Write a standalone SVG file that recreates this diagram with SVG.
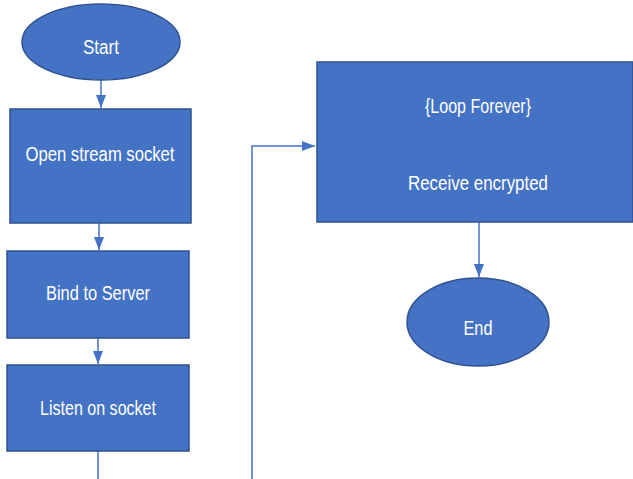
<svg xmlns="http://www.w3.org/2000/svg" width="633" height="479" viewBox="0 0 633 479">
  <style>
    .shape { fill: #4472C4; stroke: #2F528F; stroke-width: 1.5; }
    .label { fill: #FFFFFF; font-family: "Liberation Sans", Arial, sans-serif; font-size: 20px; text-anchor: middle; dominant-baseline: central; }
    .edge { fill: none; stroke: #4472C4; stroke-width: 1.5; }
  </style>
  <defs>
    <marker id="arrow" viewBox="0 0 10 10" refX="10" refY="5" markerWidth="13" markerHeight="10" markerUnits="userSpaceOnUse" orient="auto" preserveAspectRatio="none">
      <path d="M0,0 L10,5 L0,10 Z" fill="#4472C4"/>
    </marker>
  </defs>
  <rect width="633" height="479" fill="#FFFFFF"/>

  <g id="connectors">
    <line class="edge" x1="101" y1="80" x2="101" y2="108" marker-end="url(#arrow)"/>
    <line class="edge" x1="99" y1="223" x2="99" y2="250" marker-end="url(#arrow)"/>
    <line class="edge" x1="98" y1="338" x2="98" y2="364" marker-end="url(#arrow)"/>
    <line class="edge" x1="98" y1="451" x2="98" y2="479"/>
    <polyline class="edge" points="252,479 252,146 315,146" marker-end="url(#arrow)"/>
    <line class="edge" x1="479" y1="222" x2="479" y2="277" marker-end="url(#arrow)"/>
  </g>

  <g id="start">
    <ellipse class="shape" cx="101" cy="42" rx="79" ry="38"/>
    <text class="label" x="101" y="47" textLength="36" lengthAdjust="spacingAndGlyphs">Start</text>
  </g>

  <g id="open-socket">
    <rect class="shape" x="10" y="109" width="181" height="114"/>
    <text class="label" x="100" y="154" textLength="149" lengthAdjust="spacingAndGlyphs">Open stream socket</text>
  </g>

  <g id="bind">
    <rect class="shape" x="7" y="251" width="182" height="87"/>
    <text class="label" x="98" y="293" textLength="104" lengthAdjust="spacingAndGlyphs">Bind to Server</text>
  </g>

  <g id="listen">
    <rect class="shape" x="7" y="365" width="182" height="86"/>
    <text class="label" x="98" y="408" textLength="116" lengthAdjust="spacingAndGlyphs">Listen on socket</text>
  </g>

  <g id="loop">
    <rect class="shape" x="317" y="62" width="316" height="160"/>
    <text class="label" x="478" y="106" textLength="106" lengthAdjust="spacingAndGlyphs">{Loop Forever}</text>
    <text class="label" x="478" y="183" textLength="140" lengthAdjust="spacingAndGlyphs">Receive encrypted</text>
  </g>

  <g id="end">
    <ellipse class="shape" cx="478" cy="322" rx="71" ry="44"/>
    <text class="label" x="478" y="328" textLength="29" lengthAdjust="spacingAndGlyphs">End</text>
  </g>
</svg>
